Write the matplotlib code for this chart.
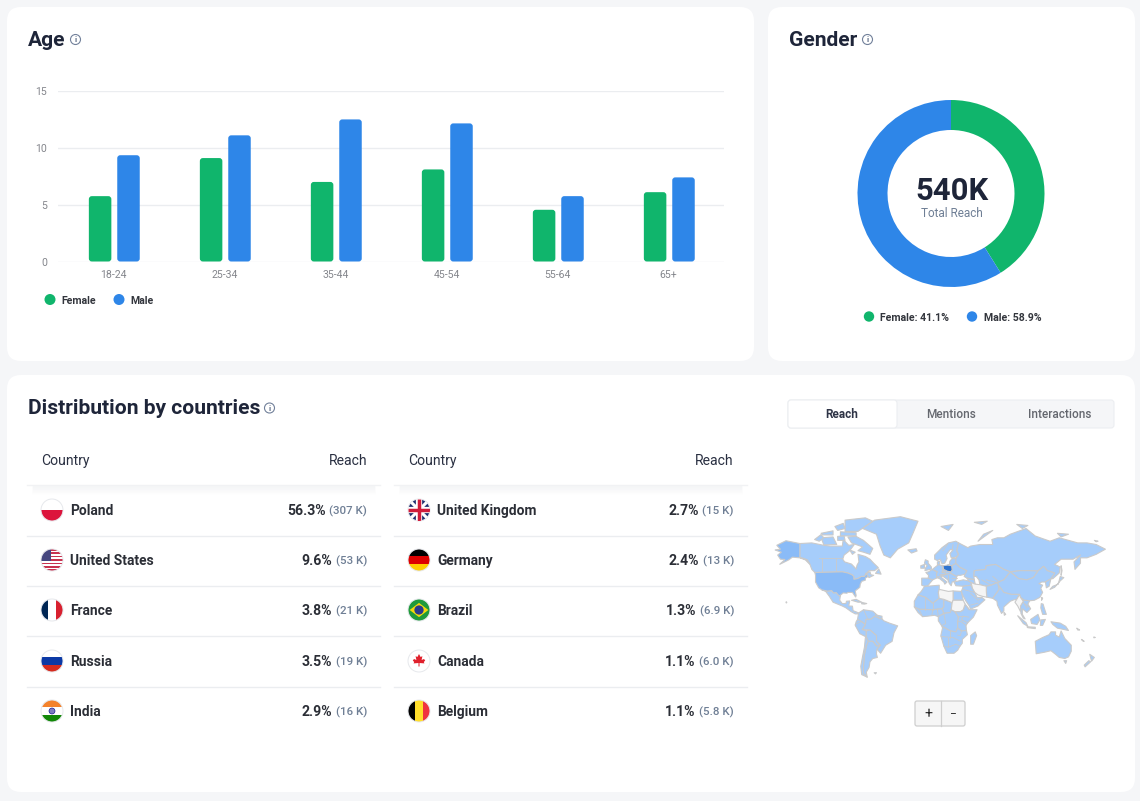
import numpy as np
import matplotlib
matplotlib.use("Agg")
import matplotlib.pyplot as plt
from matplotlib.patches import Circle, FancyBboxPatch, Polygon, Rectangle

plt.rcParams['font.family'] = ['Roboto', 'DejaVu Sans']

# chart data
age_groups = ["18-24", "25-34", "35-44", "45-54", "55-64", "65+"]
female_age = [5.75, 9.1, 7.0, 8.1, 4.55, 6.1]
male_age = [9.35, 11.1, 12.5, 12.15, 5.75, 7.4]

gender_labels = ["Female", "Male"]
gender_share = [41.1, 58.9]

countries_left = ["Poland", "United States", "France", "Russia", "India"]
share_left = ["56.3%", "9.6%", "3.8%", "3.5%", "2.9%"]
reach_left = ["(307 K)", "(53 K)", "(21 K)", "(19 K)", "(16 K)"]
countries_right = ["United Kingdom", "Germany", "Brazil", "Canada", "Belgium"]
share_right = ["2.7%", "2.4%", "1.3%", "1.1%", "1.1%"]
reach_right = ["(15 K)", "(13 K)", "(6.9 K)", "(6.0 K)", "(5.8 K)"]
tabs = ["Reach", "Mentions", "Interactions"]

# rough world outlines, lon/lat
usa_shapes = [
    [(-141,69.6),(-156,71.3),(-166,68.5),(-162,66),(-168,65.5),(-161,64),(-165,62),(-162,59),(-157,58.8),(-163,55),(-153,58.5),(-149,60.5),(-141,60),(-135,58.5),(-130,55),(-133,58.5),(-137,59.5),(-141,60.3)],
    [(-124.7,48.4),(-95,49),(-89,48),(-84.5,46.5),(-82.5,45),(-82.5,42.5),(-79,43),(-76,44),(-75,45),(-71,45),(-69,47.3),(-67,45),(-70,43.5),(-70,41.7),(-74,40.6),(-75.5,38),(-76,35),(-81,31.5),(-80,27),(-80.5,25.2),(-82.5,28),(-84,30),(-89,30),(-90,29.2),(-94,29.5),(-97.3,27),(-97.2,26),(-99.5,27.5),(-101.5,29.8),(-104.5,29.5),(-106.5,31.8),(-111,31.3),(-117,32.5),(-120.5,34.5),(-124,40),(-124,46)],
    [(-156,20.5),(-155,19.8),(-155.6,19)],
]
poland_shape = [(14,54),(19,54.5),(23.5,54),(24,50.5),(22.5,49),(19,49.5),(14.8,51)]
no_data_shapes = [
    [(10,33),(20,31),(25,31.5),(25,22),(24,19.5),(15,23),(10,24),(9,30)],
    [(24,19.5),(25,22),(36,22),(38,18),(36,12),(33,10),(27,10),(23,12)],
    [(44.5,39.5),(49,38),(54,37.5),(61,36),(61,31),(61.5,25.2),(57,26),(52,27.5),(48.5,30),(46,34)],
    [(94,23),(97,28),(98,25),(101,21),(98,16),(98,10),(95,16),(92,20)],
]
land_shapes = [
    # north america
    [(-141,69.6),(-128,70),(-115,68.5),(-108,68),(-95,68),(-94,72),(-88,68.5),(-82,69),(-87,65),(-93,62),(-94.5,59),(-92.5,57),(-85,55.3),(-82,53),(-80,51.3),(-79,54.5),(-77,57),(-78,62.5),(-70,61),(-65,59),(-61,56),(-56,52.5),(-60,50),(-66,50),(-70,47),(-65,49),(-64,46.5),(-61,46),(-66,44),(-67,45),(-69,47.3),(-71,45),(-75,45),(-76,44),(-79,43),(-82.5,42.5),(-82.5,45),(-84.5,46.5),(-89,48),(-95,49),(-124.7,48.4),(-128,51),(-130,55),(-133,58.5),(-137,59.5),(-141,60.3)],
    [(-89,73.5),(-80,73.8),(-72,71.5),(-62,66.5),(-65,62.5),(-72,64),(-78,65),(-73,67.5),(-85,70)],
    [(-118,73),(-105,73.5),(-101,69),(-115,68.8)],
    [(-92,76.5),(-78,76.5),(-62,81.5),(-70,83),(-92,82)],
    [(-125,72),(-118,74.8),(-115,73),(-120,71)],
    [(-97,76.3),(-80,75.8),(-80,74.2),(-97,74)],
    [(-118,75.5),(-105,76.8),(-105,74.6),(-116,74.6)],
    [(-103,79),(-94,80.5),(-92,78),(-100,77)],
    [(-100,73.8),(-93,74),(-92,71.5),(-100,71.5)],
    [(-87,65.5),(-81,64),(-84,62.5)],
    [(-59,47.7),(-53,47),(-55.5,51.5)],
    [(-73,78),(-60,82),(-32,83.5),(-13,81.5),(-18,76),(-23,70),(-35,66),(-43,60),(-50,62),(-54,68),(-58,75)],
    [(-24,65.5),(-15,66.3),(-14,64.8),(-20,63.4)],
    [(-117,32.5),(-111,31.3),(-106.5,31.8),(-104.5,29.5),(-101.5,29.8),(-99.5,27.5),(-97.2,26),(-97.8,22),(-95,18.5),(-91,18.7),(-90.5,21),(-87,21.3),(-88,16),(-84,15.8),(-83.3,11),(-79.5,9.5),(-77.3,8.5),(-78,7.5),(-81,7.5),(-85.5,10),(-91,14),(-95,16),(-105,20),(-109,26),(-113,31)],
    [(-85,22),(-80,23),(-74,20),(-78,20)],
    [(-74,19.8),(-68.5,18.6),(-71,18),(-74,18.3)],
    # south america
    [(-60,5),(-52,2),(-50,0),(-44,-2.5),(-35,-5.5),(-39,-13),(-41,-22),(-48,-26),(-53.5,-34),(-57.5,-30),(-54,-26),(-58,-22),(-58,-16),(-65,-10),(-73.5,-9.5),(-70,-4),(-69.5,1.5),(-64,2)],
    [(-77.3,8.5),(-72,12),(-62,10.5),(-57,6),(-52,5),(-52,2),(-60,5),(-64,2),(-69.5,1.5),(-70,-4),(-74,-1),(-78.5,1.5)],
    [(-78.5,1.5),(-74,-1),(-70,-4),(-73.5,-9.5),(-69,-11),(-69,-17.5),(-76,-14),(-81,-5),(-80,-1)],
    [(-69,-11),(-65,-10),(-58,-16),(-58,-22),(-54,-26),(-58,-27),(-62,-22),(-67,-22),(-69,-17.5)],
    [(-67,-22),(-62,-22),(-58,-27),(-54,-26),(-57.5,-30),(-58,-34.5),(-57,-38),(-62,-39),(-65,-42),(-66,-47),(-69,-51),(-68,-55),(-72,-52),(-72,-45),(-71,-35),(-69,-27)],
    [(-69,-17.5),(-67,-22),(-69,-27),(-71,-35),(-72,-45),(-72,-52),(-68,-55),(-74,-53),(-75,-46),(-73,-37),(-71,-28),(-70,-18)],
    [(-60.5,-51.5),(-58,-51.4),(-59,-52.4)],
    # africa
    [(-9.5,31),(-6,35.8),(10,37),(10,33),(9,30),(10,24),(3,19),(-5,25),(-13,27.5)],
    [(-17,21),(-13,27.5),(-5,25),(3,19),(10,24),(15,23),(15,15),(13,13),(3,12),(-12,12.5),(-17,15)],
    [(25,31.5),(34,31),(36,22),(25,22)],
    [(15,23),(24,19.5),(23,12),(22,9),(15,8),(13,13),(15,15)],
    [(-17,15),(-12,12.5),(3,12),(13,13),(15,8),(9,4.5),(5,6),(-3,5),(-8,4.5),(-13,9)],
    [(9,4.5),(15,8),(22,9),(23,12),(27,10),(31,4),(30,-1),(30,-8),(28,-12),(22,-11),(13,-6),(9,0)],
    [(27,10),(33,10),(36,12),(38,18),(43,12),(51,12),(47,4),(41,-2),(39,-5),(39.5,-10.5),(34,-11),(30,-8),(30,-1),(31,4)],
    [(13,-6),(22,-11),(28,-12),(30,-8),(34,-11),(39.5,-10.5),(40.5,-15),(35,-20),(35,-24),(32.5,-27),(30,-31),(26,-34),(18.5,-34),(15,-27),(11.7,-16),(13.5,-8)],
    [(49,-12),(50.5,-16),(47,-25),(44,-25),(44,-16)],
    # europe
    [(-9,43.5),(-2,43.5),(3,42),(0,39),(-2,36.8),(-6,36),(-9,37)],
    [(-2,43.5),(3,42),(7.5,43.7),(7,47.5),(8,49),(2.5,51),(-1.5,49),(-4.5,48.5),(-1.5,46)],
    [(2.5,51),(7,53.7),(9,54.8),(14,54),(14.8,51),(13,48.7),(17,48.8),(16.5,46.5),(13,45.7),(7.5,44),(7,47.5),(8,49)],
    [(7.5,44),(13,45.7),(12.5,44),(18.5,40),(16,38),(15,40),(10.5,43)],
    [(13,48.7),(14.8,51),(19,49.5),(22.5,49),(22,48),(16.5,46.5),(17,48.8)],
    [(13,45.7),(16.5,46.5),(22,48),(29,45),(28,41.5),(26,40.5),(24,40),(23,36.5),(21,38.5),(19.3,42)],
    [(23.5,54),(28,56),(32,53),(40,50),(38,47),(33,46),(30,46),(29,45),(22,48),(22.5,49),(24,50.5)],
    [(19,54.5),(21,55),(21.5,57.5),(24,59.5),(28,59.5),(28,56),(23.5,54)],
    [(5,59),(5,62),(13,67),(20,70),(28,71),(31,70),(29,65),(31,62.5),(28,60.5),(23,60),(21.5,63),(25,65.5),(22,65.8),(17.5,62),(18.5,59.5),(16,56),(13,55.5),(11,59),(8,58)],
    [(8,55),(8,57),(10.5,57.5),(10.5,55)],
    [(-5.5,50),(1.5,51.3),(1.5,53),(-2,56),(-2,57.7),(-5,58.6),(-6,56),(-3,54),(-5,52)],
    [(-10,52),(-6,52),(-6,55),(-10,54)],
    [(12,79),(25,80),(20,77)],
    [(48,81),(62,81.5),(56,80)],
    # asia
    [(26,40),(36,42),(42,41),(44.5,39.5),(44.5,37),(36,36),(28,36.5)],
    [(28,56),(28,59.5),(31,62.5),(29,65),(31,70),(41,67),(44,68),(54,69),(60,69),(68,69),(67,72),(73,73),(80,73),(87,75),(104,78),(114,74),(130,71),(140,73),(160,70),(170,70),(180,69),(190,66),(180,62.5),(170,60),(163,60),(163,56),(157,51),(156,57),(163,62),(155,59),(142,59),(135,55),(141,53),(140,48),(133,43),(131,43),(135,48),(127,50),(123,53.5),(117,49.7),(107,50),(98,50),(87,49),(80,51),(71,55),(61,54),(60,51),(48,50),(47.5,45),(48,42),(40,43.5),(37,45),(38,47),(40,50),(32,53)],
    [(52,71),(68,77),(58,75)],
    [(94,80),(106,79.5),(100,78)],
    [(138,75.5),(150,75),(142,73.5)],
    [(178,71.5),(182,71),(180,70.7)],
    [(142,54),(143,50),(142,46)],
    [(48,50),(60,51),(61,54),(71,55),(80,51),(87,49),(80,42),(73,39.5),(66,37),(61,36),(54,37.5),(53,42),(50,45),(47.5,45)],
    [(87,49),(98,50),(107,50),(117,49.7),(112,44),(105,42),(96,43)],
    [(80,42),(87,49),(96,43),(105,42),(112,44),(117,49.7),(123,53.5),(127,50),(135,48),(131,43),(125,40),(121,40),(118,38.5),(122,37),(120,34),(122,30),(119,25),(113,22),(108,21.5),(102,22),(98,25),(97,28),(88,28),(80,30),(74,37),(73,39.5)],
    [(125,40),(131,43),(129,36),(126,34.5)],
    [(40,43.5),(48,42),(49,38),(44.5,39.5),(42,41)],
    [(36,36),(44.5,37),(46,34),(48.5,30),(51,25),(56,25),(59.5,22.5),(52,16),(44,12.7),(42.5,16),(39,21),(35,28),(34,31)],
    [(61,36),(66,37),(73,39.5),(74,37),(75,33),(71,28),(68,24),(61.5,25.2),(61,31)],
    [(74,37),(80,30),(88,28),(97,28),(94,23),(91,22.5),(87,21),(80,15),(80,11),(77.5,8),(73,17),(72.5,21),(68,24),(71,28),(75,33)],
    [(98,25),(102,22),(108,21.5),(106,18),(109,13),(105,9),(100,13),(100,7),(103,2),(101,3),(98.5,8),(98,16),(101,21)],
    [(80,9.5),(82,7),(80.5,6)],
    [(95,5.5),(104,-2),(106,-6),(101,-3)],
    [(105,-6.5),(114,-7),(114,-8.5),(106,-7.5)],
    [(109,1.5),(117,7),(119,1),(116,-4),(110,-3)],
    [(120,1),(125,1.5),(122,-5),(119.5,-5)],
    [(131,-1),(141,-2.5),(147,-6),(150,-10.5),(143,-9),(138,-8),(133,-4)],
    [(120.5,18.5),(122.5,18),(124,13),(126,7),(122,7),(120,14)],
    [(130,33),(135,35),(141,41),(145,44),(141,45),(139,38),(133,36)],
    [(121,25),(122,24),(120.8,22)],
    # oceania
    [(114,-22),(122,-18),(129,-15),(131,-12),(136,-12),(136,-15.5),(140,-17.5),(142,-11),(146,-19),(153,-26),(153,-32),(150,-37.5),(146,-39),(140,-38),(136,-35),(131,-31.5),(124,-33),(115,-34.5)],
    [(145,-41),(148,-41),(147,-43.5)],
    [(173,-35),(178,-38),(175,-41.5)],
    [(172,-41),(174,-42),(168,-46.5),(167,-45)],
    [(159,-8),(162,-10),(160,-10)],
    [(164,-20),(167,-22),(166,-22)],
    [(177.5,-17.4),(179,-18),(177.5,-18.3)],
]
border_lines = [
    [(-5,25),(-5,12)], [(3,19),(3,12)], [(-12,12.5),(-8,4.5)], [(3,12),(2,6)], [(8,13),(9,4.5)],
    [(12,-17),(25,-18),(33,-22)], [(20,-18),(20,-28)], [(15,-27),(20,-28),(28,-25),(32.5,-27)],
    [(22,-11),(22,-18)], [(41,-2),(34,1),(36,5),(42,4)], [(30,-1),(34,-1),(39,-5)], [(34,-11),(33,-16),(30,-15.5)],
    [(15,8),(17,-3),(13,-5)], [(30,4),(36,5)], [(38,18),(42,12)],
    [(-72,12),(-67,1)], [(-60,8),(-60,5)], [(-57,6),(-55,2)], [(-81,-4),(-75,-1)],
    [(48,30),(40,32),(36,33)], [(44,29),(52,22),(56,25)], [(44,17),(52,19)],
    [(61,42),(73,39.5)], [(56,42),(66,37)], [(68,45),(75,40)],
    [(13,54),(14,48)], [(6,50),(8,49)], [(10,47),(17,47)], [(24,44),(29,44)], [(20,46),(20,42)],
    [(14,65),(19,69)], [(25,69),(24,65.5)],
    [(-117,49),(-117,60)], [(-102,49),(-102,60)], [(-120,60),(-95,60)],
    [(100,22),(105,14)], [(103,18),(107,15)],
]

W, H = 1140, 801
GREEN = "#10B56C"
BLUE = "#2E86E8"
DARK = "#1E2539"
ROW_TEXT = "#2B2E36"
SOFT = "#6F7F95"
LINE = "#EBEDF0"
EDGE = "#CACACA"


def px(size):
    return size * 0.72


fig = plt.figure(figsize=(W / 100, H / 100), dpi=100, facecolor="#F5F6F8")

# page layer, works in reference pixels
bg = fig.add_axes([0, 0, 1, 1], zorder=0)
bg.set_xlim(0, W)
bg.set_ylim(H, 0)
bg.axis("off")


def card(x0, y0, x1, y1, r=14):
    bg.add_patch(FancyBboxPatch((x0 + r, y0 + r), x1 - x0 - 2 * r, y1 - y0 - 2 * r,
                                boxstyle="round,pad=%d,rounding_size=%d" % (r, r),
                                fc="white", ec="none"))


def info_icon(cx, cy):
    bg.add_patch(Circle((cx, cy), 5, fc="white", ec="#71809A", lw=0.8))
    bg.text(cx, cy + 0.3, "i", fontsize=px(8), color="#5C6B85", ha="center", va="center", weight="bold")


card(7, 7, 754, 361)
card(768, 7, 1135, 361)
card(7, 375, 1135, 792)

bg.text(27.5, 40.5, "Age", fontsize=px(21), weight="bold", color=DARK, va="center")
info_icon(75.5, 39.5)
bg.text(788.5, 40.5, "Gender", fontsize=px(21), weight="bold", color=DARK, va="center")
info_icon(867.5, 39.5)
bg.text(27.5, 409, "Distribution by countries", fontsize=px(21), weight="bold", color=DARK, va="center")
info_icon(269.5, 408)

# age bars
ax = fig.add_axes([58 / W, 1 - 261.5 / H, 666 / W, 170.5 / H], zorder=1)
ax.patch.set_alpha(0)
ax.set_xlim(-0.5, 5.5)
ax.set_ylim(0, 15)
for s in ax.spines.values():
    s.set_visible(False)
ax.set_yticks([0, 5, 10, 15])
ax.set_xticks(range(len(age_groups)))
ax.set_xticklabels(age_groups)
ax.tick_params(length=0, labelsize=px(10.5), labelcolor="#84868C")
ax.tick_params(axis="y", pad=7.8)
ax.tick_params(axis="x", pad=6)
ax.grid(axis="y", color=LINE, lw=1)
ax.set_axisbelow(True)
aspect = (15 / 170.5) / (6 / 666)
bar_w = 22.5 / 111
shift = 0.8 / 111
for i, (f, m) in enumerate(zip(female_age, male_age)):
    for val, off, col in [(f, -14.2 / 111, GREEN), (m, 14.2 / 111, BLUE)]:
        ax.add_patch(FancyBboxPatch((i + off + shift - bar_w / 2, 0), bar_w, val,
                                    boxstyle="round,pad=0,rounding_size=0.027",
                                    mutation_aspect=aspect, fc=col, ec="none", zorder=3))

# legend under bars
for lx, lbl, col in [(50, gender_labels[0], GREEN), (119, gender_labels[1], BLUE)]:
    bg.add_patch(Circle((lx, 299.5), 5.5, fc=col, ec="none"))
    bg.text(lx + 11, 300.8, lbl, fontsize=px(10.5), weight="bold", color="#33363D", va="center")

# donut
ax2 = fig.add_axes([(951 - 93.5) / W, 1 - (193.5 + 93.5) / H, 187 / W, 187 / H], zorder=1)
ax2.pie(gender_share, colors=[GREEN, BLUE], startangle=90, counterclock=False, radius=1,
        wedgeprops=dict(width=30 / 93.5, ec="none"))
ax2.set_xlim(-1, 1)
ax2.set_ylim(-1, 1)

bg.text(951.5, 191.5, "540K", fontsize=px(31), weight="bold", color=DARK, ha="center", va="center")
bg.text(951.5, 213.5, "Total Reach", fontsize=px(11.8), color="#6F7F95", ha="center", va="center")
for lx, lbl, val, col in [(869, gender_labels[0], gender_share[0], GREEN),
                          (972, gender_labels[1], gender_share[1], BLUE)]:
    bg.add_patch(Circle((lx, 316.5), 5.2, fc=col, ec="none"))
    bg.text(lx + 11.5, 318.2, "%s: %.1f%%" % (lbl, val), fontsize=px(10.5), weight="bold",
            color="#33363D", va="center")


# flags
def flag(cx, cy, name, r=11):
    clip = Circle((cx, cy), r, fc="white", ec="none")
    bg.add_patch(clip)
    x0, y0, d = cx - r, cy - r, 2 * r

    def rect(x, y, w, h, col):
        p = Rectangle((x0 + x * d, y0 + y * d), w * d, h * d, fc=col, ec="none")
        bg.add_patch(p)
        p.set_clip_path(clip)

    def seg(a, b, col, lw):
        l, = bg.plot([cx + a[0] * r, cx + b[0] * r], [cy + a[1] * r, cy + b[1] * r], color=col, lw=lw,
                     solid_capstyle="butt")
        l.set_clip_path(clip)

    if name == "Poland":
        rect(0, 0.5, 1, 0.5, "#DC143C")
    elif name == "United States":
        for k in range(7):
            rect(0, k * 2 / 13, 1, 1 / 13, "#C8324F")
        rect(0, 0, 0.45, 7 / 13, "#46467F")
    elif name == "France":
        rect(0, 0, 1 / 3, 1, "#002654")
        rect(2 / 3, 0, 1 / 3, 1, "#D8202F")
    elif name == "Russia":
        rect(0, 1 / 3, 1, 1 / 3, "#0B39A5")
        rect(0, 2 / 3, 1, 1 / 3, "#D52B1E")
    elif name == "India":
        rect(0, 0, 1, 1 / 3, "#F4822B")
        rect(0, 2 / 3, 1, 1 / 3, "#128807")
        bg.add_patch(Circle((cx, cy), 3, fc="#7C7CC0", ec="#000080", lw=0.4))
    elif name == "United Kingdom":
        rect(0, 0, 1, 1, "#1F2F6E")
        seg((-1, -1), (1, 1), "white", 2.2)
        seg((-1, 1), (1, -1), "white", 2.2)
        seg((-1, 0), (1, 0), "white", 4.5)
        seg((0, -1), (0, 1), "white", 4.5)
        seg((-1, 0), (1, 0), "#CF1B3A", 2.5)
        seg((0, -1), (0, 1), "#CF1B3A", 2.5)
    elif name == "Germany":
        rect(0, 0, 1, 1 / 3, "#000000")
        rect(0, 1 / 3, 1, 1 / 3, "#DD0000")
        rect(0, 2 / 3, 1, 1 / 3, "#FFCE00")
    elif name == "Brazil":
        rect(0, 0, 1, 1, "#1F9A3C")
        dia = Polygon([(cx - r * 0.85, cy), (cx, cy - r * 0.65), (cx + r * 0.85, cy), (cx, cy + r * 0.65)],
                      fc="#F5D90B", ec="none")
        bg.add_patch(dia)
        bg.add_patch(Circle((cx, cy), r * 0.42, fc="#2B3A8C", ec="none"))
    elif name == "Canada":
        leaf = [(0, -7), (1.6, -4), (3.4, -4.8), (2.6, -1), (5, -2), (6.2, -0.5), (4.8, 1), (5.4, 2.4),
                (0.5, 2), (0.5, 5.5), (-0.5, 5.5), (-0.5, 2), (-5.4, 2.4), (-4.8, 1), (-6.2, -0.5),
                (-5, -2), (-2.6, -1), (-3.4, -4.8), (-1.6, -4)]
        bg.add_patch(Polygon([(cx + a, cy + b) for a, b in leaf], fc="#E0202C", ec="none"))
    elif name == "Belgium":
        rect(0, 0, 1 / 3, 1, "#000000")
        rect(1 / 3, 0, 1 / 3, 1, "#FFDD2B")
        rect(2 / 3, 0, 1 / 3, 1, "#EF3340")
    bg.add_patch(Circle((cx, cy), r, fc="none", ec="#E6E8EC", lw=0.7))


# country tables
row_y = [510, 560, 610, 661, 711]
line_y = [535.5, 585.5, 636, 686.5]
fig.canvas.draw()
renderer = fig.canvas.get_renderer()
for x0, x1, names, shares, reaches in [(27, 380, countries_left, share_left, reach_left),
                                       (394, 747, countries_right, share_right, reach_right)]:
    bg.text(x0 + 13.8, 460.7, "Country", fontsize=px(14), color="#2A3042", va="center")
    bg.text(x1 - 13, 460.7, "Reach", fontsize=px(14), color="#2A3042", va="center", ha="right")
    # soft shadow below header
    for k in range(8):
        bg.plot([x0 + 6, x1 - 6], [486 + k, 486 + k], color="#F0F1F4", alpha=0.55 * (1 - k / 8), lw=1)
    bg.plot([x0, x1], [484.5, 484.5], color="#F1F2F4", lw=1)
    for ly in line_y:
        bg.plot([x0, x1], [ly, ly], color=LINE, lw=1)
    for y, name, sh, re_ in zip(row_y, names, shares, reaches):
        flag(x0 + 25, y, name)
        bg.text(x0 + 43, y + 1, name, fontsize=px(13.7), weight="bold", color=ROW_TEXT, va="center")
        t = bg.text(x1 - 13, y + 1.6, re_, fontsize=px(11.5), weight="medium", color=SOFT, va="center", ha="right")
        left = bg.transData.inverted().transform(t.get_window_extent(renderer))[0][0]
        bg.text(left - 3.5, y + 1, sh, fontsize=px(14), weight="bold", color=ROW_TEXT, va="center", ha="right")

# tabs
bg.add_patch(FancyBboxPatch((790, 402), 322, 24, boxstyle="round,pad=2,rounding_size=3",
                            fc="#F5F6F8", ec="#ECEEF1", lw=0.8))
bg.add_patch(FancyBboxPatch((790, 402), 105, 24, boxstyle="round,pad=2,rounding_size=3",
                            fc="white", ec="#ECEEF1", lw=0.8))
for tx, lbl, col, wt in zip([842, 951, 1060], tabs, ["#2E3446", "#64676E", "#64676E"], ["bold", "medium", "medium"]):
    bg.text(tx, 414.5, lbl, fontsize=px(11.8), color=col, weight=wt, ha="center", va="center")


# map, miller projection
def project(shape):
    a = np.radians(np.array(shape, dtype=float))
    return np.column_stack([a[:, 0], 1.25 * np.log(np.tan(np.pi / 4 + 0.4 * a[:, 1]))])


mx0, mx1, my0, my1 = 765, 1112, 510, 686
ax3 = fig.add_axes([mx0 / W, 1 - my1 / H, (mx1 - mx0) / W, (my1 - my0) / H], zorder=1)
ax3.set_xlim((mx0 - 930) / 52.9, (mx1 - 930) / 52.9)
ax3.set_ylim((620.8 - my1) / 52.6, (620.8 - my0) / 52.6)
ax3.axis("off")
ax3.patch.set_alpha(0)
for shape in land_shapes:
    ax3.add_patch(Polygon(project(shape), fc="#A6CDFB", ec=EDGE, lw=0.8, joinstyle="round"))
for line in border_lines:
    pts = project(line)
    ax3.plot(pts[:, 0], pts[:, 1], color=EDGE, lw=0.6)
for shape in usa_shapes:
    ax3.add_patch(Polygon(project(shape), fc="#8ABBF7", ec=EDGE, lw=0.8, zorder=3))
for shape in no_data_shapes:
    ax3.add_patch(Polygon(project(shape), fc="#F5F5F5", ec=EDGE, lw=0.8, zorder=3))
ax3.add_patch(Polygon(project(poland_shape), fc="#2F74D0", ec=EDGE, lw=0.8, zorder=3))

# zoom buttons
bg.add_patch(FancyBboxPatch((916, 702), 48, 23, boxstyle="round,pad=1,rounding_size=2",
                            fc="#F6F6F6", ec="#CFCFCF", lw=0.9))
bg.plot([940.5, 940.5], [701, 726], color="#CFCFCF", lw=0.9)
bg.text(928.5, 714, "+", fontsize=px(14), color="#222222", ha="center", va="center")
bg.text(952.5, 714, "\u2212", fontsize=px(12), color="#222222", ha="center", va="center")

fig.savefig("out.png", dpi=100, facecolor=fig.get_facecolor())
